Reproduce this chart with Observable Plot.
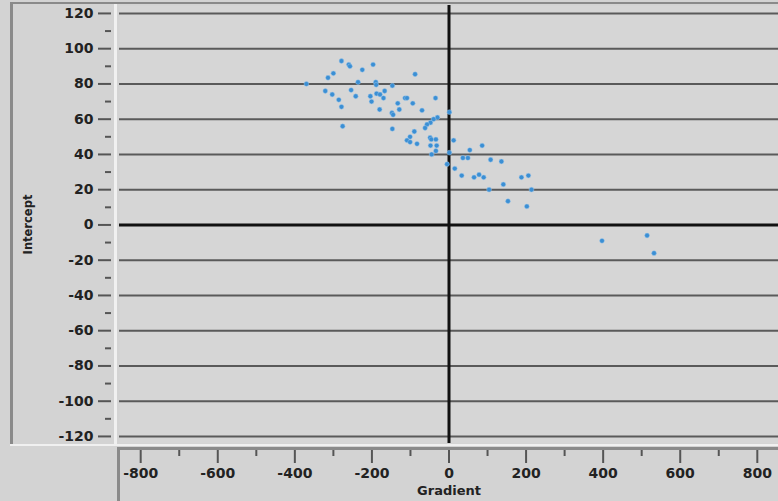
<!DOCTYPE html>
<html>
<head>
<meta charset="utf-8">
<script src="https://cdn.jsdelivr.net/npm/d3@7"></script>
<script src="https://cdn.jsdelivr.net/npm/@observablehq/plot@0.6"></script>
<style>
  html, body { margin: 0; padding: 0; background: #d3d3d3; }
  #wrap { position: relative; width: 778px; height: 501px; overflow: hidden; background: #d3d3d3; }
  .deco { position: absolute; }
  #chart { position: absolute; left: 0; top: 0; }
  #chart svg { display: block; }
</style>
</head>
<body>
<div id="wrap">
  <div class="deco" style="left:10px;top:2px;width:768px;height:2px;background:#8a8a8a"></div>
  <div class="deco" style="left:10px;top:2px;width:3px;height:444px;background:#8a8a8a"></div>
  <div class="deco" style="left:114px;top:4px;width:3px;height:442px;background:#f0f0f0"></div>
  <div class="deco" style="left:10px;top:444px;width:768px;height:2px;background:#f0f0f0"></div>
  <div class="deco" style="left:117px;top:447px;width:661px;height:3px;background:#8a8a8a"></div>
  <div class="deco" style="left:117px;top:447px;width:3px;height:54px;background:#8a8a8a"></div>
  <div id="chart"></div>
</div>
<script>
// Scatter data
const gradient = [-279, -260, -257, -197, -300, -225, -88, -314, -370, -236, -190, -189, -147,
  -321, -254, -303, -242, -188, -179, -167, -170, -204, -114, -109, -35, -286, -201, -133, -94,
  -279, -129, -180, -70, -148, -145, 1, -30, -40, -48, -57, -62, -276, -147, -90, -101, -49,
  -46, -34, -109, -101, 12, -83, -48, -32, -34, -45, 1, 54, 86, 36, 49, 108, 136, -5, 15, 33,
  65, 78, 90, 104, 141, 153, 188, 206, 214, 202, 397, 514, 532];
const intercept = [93, 91, 90, 91, 86, 88, 85.5, 83.5, 80, 81, 81, 79.5, 79,
  76, 76.5, 74, 73, 74.5, 74, 76, 72, 73, 72, 72, 72, 71, 70, 69, 69,
  67, 65.5, 65.5, 65, 63.5, 62.5, 64, 61, 60, 58, 57, 55, 56, 54.5, 53, 50, 49.5,
  48.5, 48.5, 48, 47, 48, 46, 45, 45, 42, 40, 41, 42.5, 45, 38, 38, 37, 36, 34.5, 32, 28,
  27, 28.5, 27, 20, 23, 13.5, 27, 28, 20, 10.5, -9, -6, -16];

const yMajor = [-120, -100, -80, -60, -40, -20, 0, 20, 40, 60, 80, 100, 120];
const yMinor = [-110, -90, -70, -50, -30, -10, 10, 30, 50, 70, 90, 110];
const xMajor = [-800, -600, -400, -200, 0, 200, 400, 600, 800];
const xMinor = [-700, -500, -300, -100, 100, 300, 500, 700];
const xTitle = ["Gradient"];
const yTitle = ["Intercept"];

const points = gradient.map((g, i) => ({gradient: g, intercept: intercept[i]}));

const chart = Plot.plot({
  width: 778,
  height: 501,
  marginLeft: 119,
  marginRight: 0,
  marginTop: 5,
  marginBottom: 58,
  style: {background: "transparent", fontFamily: "DejaVu Sans", fontSize: "13.5px", fontWeight: "bold", color: "#222"},
  x: {domain: [-855, 855], label: null},
  y: {domain: [-124, 124.5], label: null},
  marks: [
    Plot.frame({fill: "#d6d6d6", stroke: null}),
    Plot.ruleY(yMajor, {stroke: "#5a5a5a", strokeWidth: 2}),
    Plot.ruleY([0], {stroke: "#111", strokeWidth: 3}),
    Plot.ruleX([0], {stroke: "#111", strokeWidth: 3}),
    Plot.dot(points, {x: "gradient", y: "intercept", r: 2.4, fill: "#3b8fd4", stroke: "#9cc6ea", strokeWidth: 0.8, strokeOpacity: 0.6}),
    Plot.axisY(yMajor, {tickSize: 13, dx: -8, tickPadding: 5, strokeWidth: 2, stroke: "#555", fill: "#222", fontSize: 14, label: null, tickFormat: d => String(d)}),
    Plot.axisY(yMinor, {tickSize: 6, dx: -8, strokeWidth: 2, stroke: "#555", text: null, label: null}),
    Plot.axisX(xMajor, {tickSize: 13, dy: 7, tickPadding: 5, strokeWidth: 2, stroke: "#555", fill: "#222", fontSize: 14, label: null, tickFormat: d => String(d)}),
    Plot.axisX(xMinor, {tickSize: 6, dy: 7, strokeWidth: 2, stroke: "#555", text: null, label: null}),
    Plot.text(xTitle, {text: d => d, frameAnchor: "bottom", dy: 51, fontSize: 13, fontWeight: "bold", fill: "#222", fontFamily: "DejaVu Sans"}),
    Plot.text(yTitle, {text: d => d, frameAnchor: "left", textAnchor: "middle", dx: -91, rotate: -90, fontSize: 11.5, fontWeight: "bold", fill: "#222", fontFamily: "DejaVu Sans"})
  ]
});
document.getElementById("chart").appendChild(chart);
</script>
</body>
</html>
